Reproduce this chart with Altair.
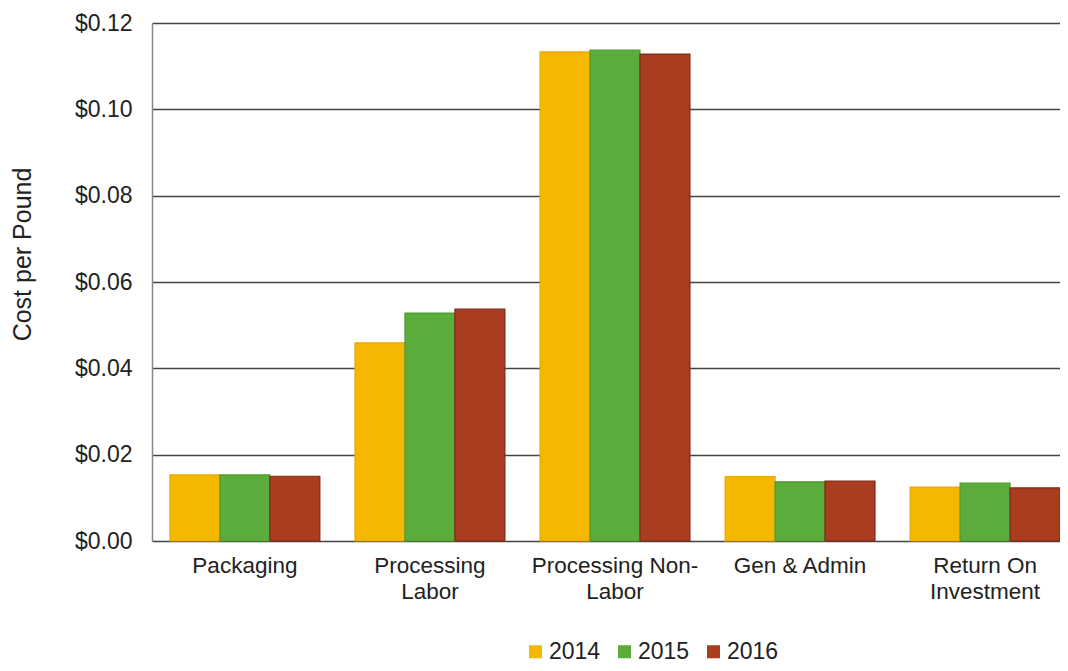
import altair as alt
import pandas as pd

categories = ["Packaging", "Processing Labor", "Processing Non-Labor", "Gen & Admin", "Return On Investment"]
years = ["2014", "2015", "2016"]
v2014 = [0.0153, 0.0459, 0.1133, 0.0149, 0.0125]
v2015 = [0.0153, 0.0528, 0.1137, 0.0137, 0.0134]
v2016 = [0.0150, 0.0537, 0.1128, 0.0139, 0.0123]
colors = ["#F4B800", "#5CAC3C", "#AA3C20"]
strokes = ["#E8A800", "#4E9A28", "#7E2A18"]

rows = []
for i, c in enumerate(categories):
    for y, vals in zip(years, [v2014, v2015, v2016]):
        rows.append({"category": c, "year": y, "value": vals[i]})
df = pd.DataFrame(rows)

label_expr = ("datum.label == 'Processing Labor' ? ['Processing', 'Labor'] : "
              "datum.label == 'Processing Non-Labor' ? ['Processing Non-', 'Labor'] : "
              "datum.label == 'Return On Investment' ? ['Return On', 'Investment'] : datum.label")

chart = alt.Chart(df).mark_bar(strokeWidth=1.2).encode(
    x=alt.X("category:N", sort=categories, title=None,
            scale=alt.Scale(paddingInner=0.19, paddingOuter=0.097, range=[0, 926]),
            axis=alt.Axis(labelAngle=0, labelExpr=label_expr, labelFontSize=22.5,
                          labelFont="Liberation Sans", labelColor="#222",
                          labelPadding=13, labelLineHeight=26, ticks=False,
                          domain=False)),
    xOffset=alt.XOffset("year:N", sort=years, scale=alt.Scale(paddingInner=0, paddingOuter=0)),
    y=alt.Y("value:Q", title="Cost per Pound",
            scale=alt.Scale(domain=[0, 0.12], nice=False),
            axis=alt.Axis(values=[0, 0.02, 0.04, 0.06, 0.08, 0.10, 0.12], format="$.2f",
                          labelFontSize=23, labelFont="Liberation Sans", labelColor="#222",
                          labelPadding=20, ticks=False, gridColor="#444", gridWidth=1.3,
                          domainColor="#888", domainWidth=1.5,
                          titleFontSize=25, titleFont="Liberation Sans", titleFontWeight="normal",
                          titleColor="#222", titleX=-117, titleY=231)),
    color=alt.Color("year:N", sort=years, scale=alt.Scale(domain=years, range=colors),
                    legend=alt.Legend(title=None, orient="none", direction="horizontal",
                                      legendX=372, legendY=617, symbolType="square",
                                      symbolSize=170, symbolStrokeWidth=0,
                                      labelFontSize=23, labelFont="Liberation Sans",
                                      labelColor="#222", columnPadding=12, labelOffset=2)),
    stroke=alt.Stroke("year:N", sort=years, scale=alt.Scale(domain=years, range=strokes), legend=None),
).properties(width=908, height=518, padding={"left": 144, "top": 15, "right": 0, "bottom": 122},
             autosize=alt.AutoSizeParams(type="none"), background="white"
).configure_view(stroke=None)

chart.save("out.html", embed_options={"renderer": "svg", "actions": False})
